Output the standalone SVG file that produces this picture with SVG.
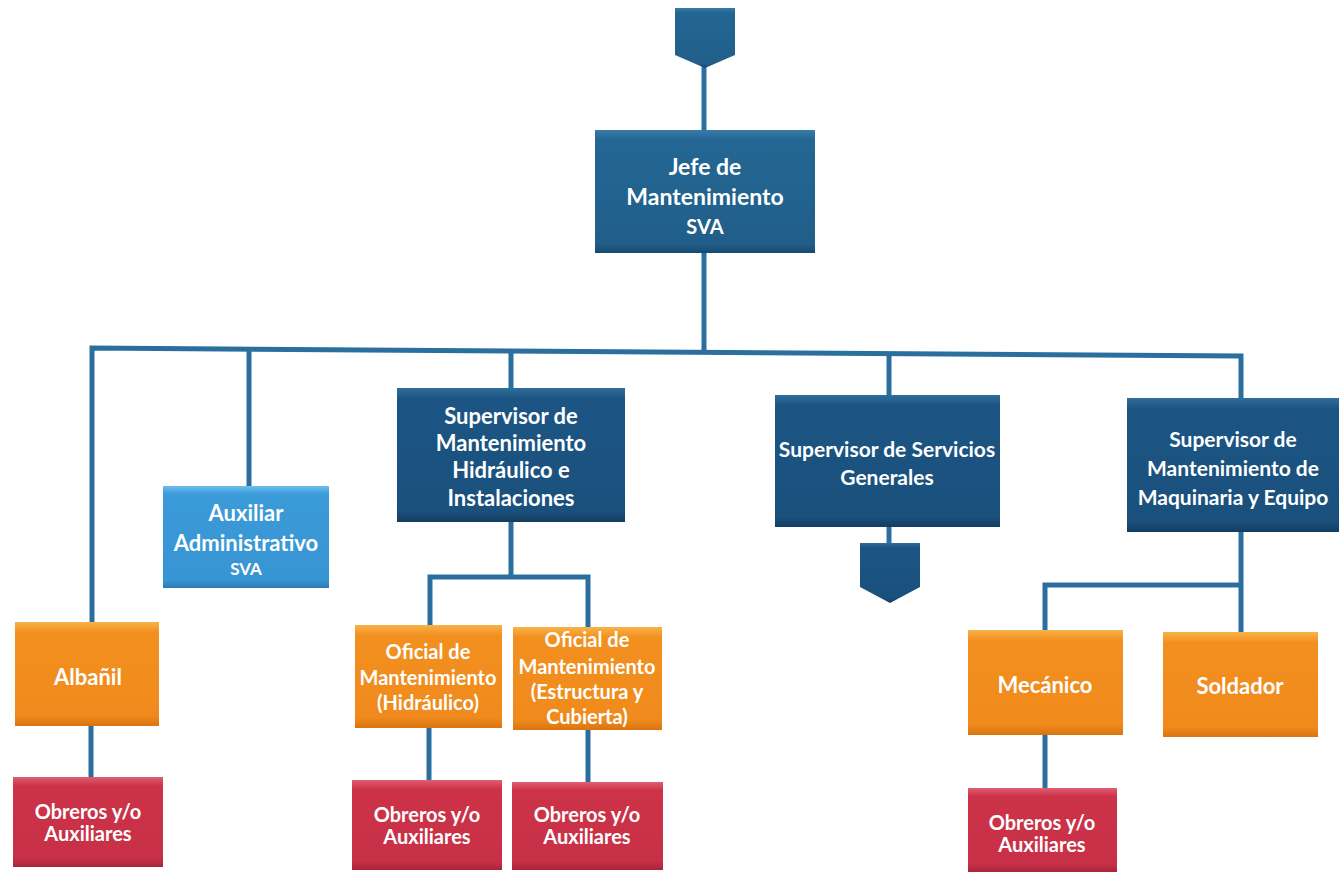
<svg xmlns="http://www.w3.org/2000/svg" width="1339" height="875" viewBox="0 0 1339 875">
<defs>
<linearGradient id="gBlue" x1="0" y1="0" x2="0" y2="1">
<stop offset="0" stop-color="#3a7ca8"/><stop offset="0.08" stop-color="#246693"/><stop offset="0.92" stop-color="#215f8a"/><stop offset="1" stop-color="#174a6e"/>
</linearGradient>
<linearGradient id="gNavy" x1="0" y1="0" x2="0" y2="1">
<stop offset="0" stop-color="#2f6d9a"/><stop offset="0.08" stop-color="#1c5584"/><stop offset="0.92" stop-color="#1a507c"/><stop offset="1" stop-color="#123d60"/>
</linearGradient>
<linearGradient id="gLight" x1="0" y1="0" x2="0" y2="1">
<stop offset="0" stop-color="#6fbdee"/><stop offset="0.08" stop-color="#3b9ad8"/><stop offset="0.92" stop-color="#3895d3"/><stop offset="1" stop-color="#2a7bb3"/>
</linearGradient>
<linearGradient id="gOrange" x1="0" y1="0" x2="0" y2="1">
<stop offset="0" stop-color="#f9b24a"/><stop offset="0.1" stop-color="#f2901f"/><stop offset="0.9" stop-color="#f08a1c"/><stop offset="1" stop-color="#d97410"/>
</linearGradient>
<linearGradient id="gRed" x1="0" y1="0" x2="0" y2="1">
<stop offset="0" stop-color="#e05d70"/><stop offset="0.1" stop-color="#cc3349"/><stop offset="0.9" stop-color="#c83047"/><stop offset="1" stop-color="#a8253a"/>
</linearGradient>
</defs>
<style>
.t{font-family:Lato,"Liberation Sans",sans-serif;font-weight:bold;fill:#ffffff;text-anchor:middle}
.s23{font-size:23px}
.s22{font-size:22px}
.s21{font-size:21px}
.s20{font-size:20px}
.s17{font-size:17px}
.c{stroke:#2a6f9e;stroke-width:5;fill:none}
.blue{fill:url(#gBlue)}
.navy{fill:url(#gNavy)}
.light{fill:url(#gLight)}
.orange{fill:url(#gOrange)}
.red{fill:url(#gRed)}
</style>
<rect width="1339" height="875" fill="#ffffff"/>
<g id="connectors">
<path class="c" d="M704 66 V131"/>
<path class="c" d="M704 252 V351"/>
<path class="c" d="M92 622 V348 L1241 356 V399"/>
<path class="c" d="M249 349 V487"/>
<path class="c" d="M511 351 V389"/>
<path class="c" d="M889 354 V396"/>
<path class="c" d="M889 526 V545"/>
<path class="c" d="M511 521 V577 M430 626 V577 H588 V628"/>
<path class="c" d="M91 725 V778"/>
<path class="c" d="M429 727 V781"/>
<path class="c" d="M588 729 V783"/>
<path class="c" d="M1241 531 V633 M1045 631 V585 H1241"/>
<path class="c" d="M1045 734 V789"/>
</g>
<g id="top-connector"><polygon class="blue" points="675,8 735,8 735,55 705,68 675,55"/></g>
<g id="jefe"><rect class="blue" x="595" y="130" width="220" height="123"/>
<text class="t s23" x="705" y="175">Jefe de</text><text class="t s23" x="705" y="205">Mantenimiento</text><text class="t s20" x="705" y="234">SVA</text></g>
<g id="auxiliar"><rect class="light" x="163" y="486" width="166" height="102"/>
<text class="t s22" x="246" y="521">Auxiliar</text><text class="t s22" x="246" y="551">Administrativo</text><text class="t s17" x="246" y="575">SVA</text></g>
<g id="sup-hidraulico"><rect class="navy" x="397" y="388" width="228" height="134"/>
<text class="t s22" x="511" y="424">Supervisor de</text><text class="t s22" x="511" y="451">Mantenimiento</text><text class="t s22" x="511" y="478">Hidráulico e</text><text class="t s22" x="511" y="506">Instalaciones</text></g>
<g id="sup-servicios"><rect class="navy" x="775" y="395" width="225" height="132"/>
<text class="t s21" x="887" y="457">Supervisor de Servicios</text><text class="t s21" x="887" y="485">Generales</text></g>
<g id="servicios-connector"><polygon class="navy" points="860,543 920,543 920,587 890,603 860,587"/></g>
<g id="sup-maquinaria"><rect class="navy" x="1127" y="398" width="216" height="134"/>
<text class="t s21" x="1233" y="447">Supervisor de</text><text class="t s21" x="1233" y="476">Mantenimiento de</text><text class="t s21" x="1233" y="505">Maquinaria y Equipo</text></g>
<g id="albanil"><rect class="orange" x="15" y="622" width="144" height="104"/>
<text class="t s22" x="88" y="685">Albañil</text></g>
<g id="oficial-hidraulico"><rect class="orange" x="355" y="625" width="147" height="103"/>
<text class="t s20" x="428" y="659">Oficial de</text><text class="t s20" x="428" y="685">Mantenimiento</text><text class="t s20" x="428" y="710">(Hidráulico)</text></g>
<g id="oficial-estructura"><rect class="orange" x="513" y="627" width="149" height="103"/>
<text class="t s20" x="587" y="647">Oficial de</text><text class="t s20" x="587" y="674">Mantenimiento</text><text class="t s20" x="587" y="699">(Estructura y</text><text class="t s20" x="587" y="724">Cubierta)</text></g>
<g id="mecanico"><rect class="orange" x="968" y="630" width="155" height="105"/>
<text class="t s22" x="1045" y="693">Mecánico</text></g>
<g id="soldador"><rect class="orange" x="1163" y="632" width="155" height="105"/>
<text class="t s22" x="1240" y="694">Soldador</text></g>
<g id="obreros-1"><rect class="red" x="13" y="777" width="150" height="90"/>
<text class="t s20" x="88" y="819">Obreros y/o</text><text class="t s20" x="88" y="841">Auxiliares</text></g>
<g id="obreros-2"><rect class="red" x="352" y="780" width="150" height="90"/>
<text class="t s20" x="427" y="822">Obreros y/o</text><text class="t s20" x="427" y="844">Auxiliares</text></g>
<g id="obreros-3"><rect class="red" x="512" y="782" width="151" height="88"/>
<text class="t s20" x="587" y="822">Obreros y/o</text><text class="t s20" x="587" y="844">Auxiliares</text></g>
<g id="obreros-4"><rect class="red" x="968" y="788" width="149" height="84"/>
<text class="t s20" x="1042" y="830">Obreros y/o</text><text class="t s20" x="1042" y="852">Auxiliares</text></g>
</svg>
